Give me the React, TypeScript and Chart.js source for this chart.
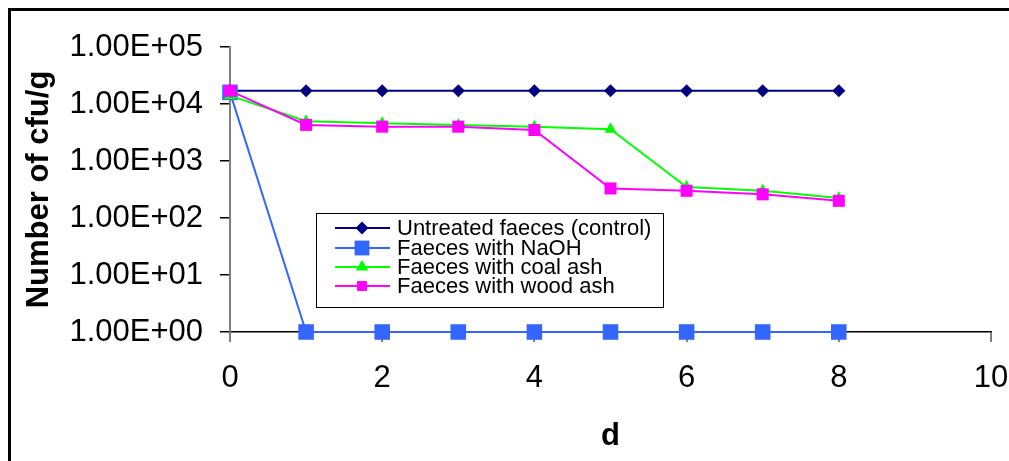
import React, { useEffect, useRef } from "react";
import { Chart, registerables } from "chart.js";

Chart.register(...registerables);

const days = [0, 1, 2, 3, 4, 5, 6, 7, 8];
const controlValues = [17000, 17000, 17000, 17000, 17000, 17000, 17000, 17000, 17000];
const naohValues = [16000, 1, 1, 1, 1, 1, 1, 1, 1];
const coalAshValues = [14000, 5000, 4600, 4300, 4000, 3600, 350, 300, 225];
const woodAshValues = [17000, 4300, 4000, 4000, 3500, 330, 300, 260, 200];

const seriesLabels = [
  "Untreated faeces (control)",
  "Faeces with NaOH",
  "Faeces with coal ash",
  "Faeces with wood ash",
];
const yTickValues = [1, 10, 100, 1000, 10000, 100000];
const yTickLabels = ["1.00E+00", "1.00E+01", "1.00E+02", "1.00E+03", "1.00E+04", "1.00E+05"];
const xTickValues = [0, 2, 4, 6, 8, 10];

const FONT = "'Liberation Sans', Arial, sans-serif";

const colors = ["#000080", "#3366FF", "#00FF00", "#FF00FF"];
const pointStyles = ["rectRot", "rect", "triangle", "rect"];
const pointRadii = [6.5, 11, 7, 8.5];

function drawMarker(ctx: CanvasRenderingContext2D, style: string, x: number, y: number, r: number, color: string) {
  ctx.save();
  ctx.fillStyle = color;
  ctx.beginPath();
  if (style === "rect") {
    const s = r * Math.SQRT1_2;
    ctx.rect(x - s, y - s, 2 * s, 2 * s);
  } else if (style === "rectRot") {
    ctx.moveTo(x, y - r);
    ctx.lineTo(x + r, y);
    ctx.lineTo(x, y + r);
    ctx.lineTo(x - r, y);
    ctx.closePath();
  } else if (style === "triangle") {
    const h = r * 1.5;
    ctx.moveTo(x, y - r);
    ctx.lineTo(x + r * 0.9, y + h - r);
    ctx.lineTo(x - r * 0.9, y + h - r);
    ctx.closePath();
  }
  ctx.fill();
  ctx.restore();
}

const framePlugin = {
  id: "frame",
  afterDraw(chart: any) {
    const ctx = chart.ctx as CanvasRenderingContext2D;
    ctx.save();
    ctx.strokeStyle = "#000";
    ctx.lineWidth = 3;
    ctx.beginPath();
    ctx.moveTo(9.5, chart.height + 5);
    ctx.lineTo(9.5, 9.5);
    ctx.lineTo(chart.width + 5, 9.5);
    ctx.stroke();
    ctx.restore();
  },
};

const legendPlugin = {
  id: "boxLegend",
  afterDatasetsDraw(chart: any) {
    const ctx = chart.ctx as CanvasRenderingContext2D;
    const bx = 316.5, by = 213.5, bw = 347, bh = 94;
    ctx.save();
    ctx.fillStyle = "#fff";
    ctx.fillRect(bx, by, bw, bh);
    ctx.strokeStyle = "#000";
    ctx.lineWidth = 1;
    ctx.strokeRect(bx, by, bw, bh);
    const rowsY = [228, 248, 267, 286];
    chart.data.datasets.forEach((ds: any, i: number) => {
      const y = rowsY[i];
      ctx.strokeStyle = ds.borderColor;
      ctx.lineWidth = 2;
      ctx.beginPath();
      ctx.moveTo(335, y);
      ctx.lineTo(390, y);
      ctx.stroke();
      const legendR = [6.5, 10.5, 7, 7][i];
      drawMarker(ctx, pointStyles[i], 362, y, legendR, ds.borderColor);
      ctx.fillStyle = "#000";
      ctx.font = `22px ${FONT}`;
      ctx.textBaseline = "middle";
      ctx.textAlign = "left";
      ctx.fillText(ds.label, 397, y + 1);
    });
    ctx.restore();
  },
};

export default function App() {
  const canvasRef = useRef<HTMLCanvasElement | null>(null);

  useEffect(() => {
    if (!canvasRef.current) return;
    const allValues = [controlValues, naohValues, coalAshValues, woodAshValues];
    const orders = [4, 3, 2, 1];
    const chart = new Chart(canvasRef.current, {
      type: "line",
      data: {
        datasets: allValues.map((vals, i) => ({
          label: seriesLabels[i],
          data: days.map((d, j) => ({ x: d, y: vals[j] })),
          borderColor: colors[i],
          backgroundColor: colors[i],
          pointBackgroundColor: colors[i],
          pointBorderColor: colors[i],
          pointBorderWidth: 0,
          pointStyle: pointStyles[i] as any,
          pointRadius: pointRadii[i],
          borderWidth: 2,
          tension: 0,
          fill: false,
          clip: false as any,
          order: orders[i],
        })),
      },
      options: {
        animation: false,
        responsive: false,
        maintainAspectRatio: false,
        events: [],
        layout: { padding: { left: 0, top: 47, right: 18, bottom: 0 } },
        plugins: {
          legend: { display: false },
          tooltip: { enabled: false },
        },
        scales: {
          x: {
            type: "linear",
            min: 0,
            max: 10,
            afterBuildTicks: (scale: any) => {
              scale.ticks = xTickValues.map((v) => ({ value: v }));
            },
            afterFit: (scale: any) => {
              scale.height = 129;
              scale.paddingRight = 0;
              scale.paddingLeft = 0;
            },
            grid: {
              drawOnChartArea: false,
              drawTicks: true,
              tickLength: 10,
              color: "#808080",
              lineWidth: 2,
            },
            border: { display: true, color: "#000", width: 1.5 },
            ticks: {
              color: "#000",
              font: { family: FONT, size: 31 },
              padding: 18,
              maxRotation: 0,
              autoSkip: false,
            },
            title: {
              display: true,
              text: "d",
              color: "#000",
              font: { family: FONT, size: 31, weight: "bold" },
              padding: { top: 0, bottom: 6 },
            },
          },
          y: {
            type: "logarithmic",
            min: 1,
            max: 100000,
            afterBuildTicks: (scale: any) => {
              scale.ticks = yTickValues.map((v) => ({ value: v, major: true }));
            },
            afterFit: (scale: any) => {
              scale.width = 230;
            },
            grid: {
              drawOnChartArea: false,
              drawTicks: true,
              tickLength: 10,
              color: "#000",
              lineWidth: 1.5,
            },
            border: { display: true, color: "#808080", width: 2 },
            ticks: {
              color: "#000",
              font: { family: FONT, size: 31 },
              padding: 17,
              autoSkip: false,
              callback: (value: any) => {
                const idx = yTickValues.indexOf(Number(value));
                return idx >= 0 ? yTickLabels[idx] : "";
              },
            },
            title: {
              display: true,
              text: "Number of cfu/g",
              color: "#000",
              font: { family: FONT, size: 31, weight: "bold" },
              padding: { top: 21, bottom: 0 },
            },
          },
        },
      },
      plugins: [legendPlugin, framePlugin],
    } as any);
    return () => chart.destroy();
  }, []);

  return (
    <div style={{ position: "absolute", left: 0, top: 0, width: 1009, height: 461, background: "#fff" }}>
      <canvas ref={canvasRef} width={1009} height={461} style={{ width: 1009, height: 461, display: "block" }} />
    </div>
  );
}
